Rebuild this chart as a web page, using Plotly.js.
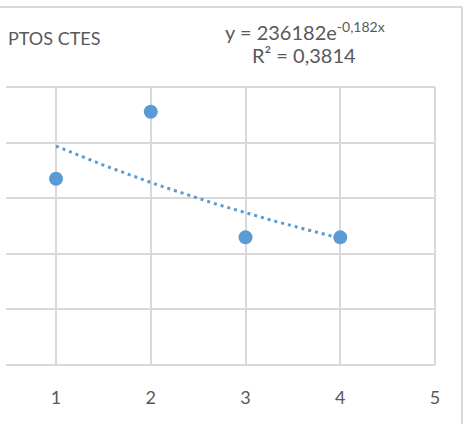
<!DOCTYPE html>
<html>
<head>
<meta charset="utf-8">
<script src="https://cdn.plot.ly/plotly-3.0.1.min.js"></script>
<style>
html,body{margin:0;padding:0;background:#fff;}
#chart{width:471px;height:424px;}
</style>
</head>
<body>
<div id="chart"></div>
<script>
// Data
const xValues = [1, 2, 3, 4];
const yValues = [167500, 227700, 114800, 114800];
const xTicks = [1, 2, 3, 4, 5];
const xTickLabels = ['1', '2', '3', '4', '5'];
// Displayed trendline coefficients
const trendA = 236182;
const trendB = -0.182;
const trendLabelA = '236182';
const trendLabelB = '-0,182';
const trendR2 = '0,3814';
const seriesTitle = 'PTOS CTES';

const trendX = [];
const trendY = [];
const x0 = Math.min(...xValues), x1 = Math.max(...xValues);
for (let i = 0; i <= 60; i++) {
  const x = x0 + (x1 - x0) * i / 60;
  trendX.push(x);
  trendY.push(trendA * Math.exp(trendB * x));
}

const blue = '#5B9BD5';
const grid = '#D9D9D9';
const txt = '#595959';
const font = 'Lato, "Open Sans", sans-serif';

const traces = [
  {x: trendX, y: trendY, type: 'scatter', mode: 'lines',
   line: {color: blue, width: 3, dash: '3px,4px'}, hoverinfo: 'skip', showlegend: false},
  {x: xValues, y: yValues, type: 'scatter', mode: 'markers',
   marker: {color: blue, size: 14}, showlegend: false}
];

const L = 6, R = 435, T = 87, B = 365;
const W = 471, H = 424;
const px = v => (v - L) / (R - L);
const py = v => (B - v) / (B - T);

const layout = {
  width: W, height: H,
  margin: {l: L, r: W - R, t: T, b: H - B, pad: 0},
  paper_bgcolor: '#fff', plot_bgcolor: '#fff',
  font: {family: font, color: txt},
  xaxis: {range: [0.472, 5], tickvals: xTicks, ticktext: xTickLabels,
          showgrid: true, gridcolor: grid, gridwidth: 2, zeroline: false,
          showline: false, ticks: '', ticklabelstandoff: 20,
          tickfont: {size: 18, color: txt, family: font}},
  yaxis: {range: [0, 250000], dtick: 50000, tick0: 0, showticklabels: false,
          showgrid: true, gridcolor: grid, gridwidth: 2, zeroline: false,
          showline: false, ticks: ''},
  shapes: [
    {type: 'line', xref: 'paper', yref: 'paper', x0: px(0), x1: px(462), y0: py(7), y1: py(7),
     line: {color: grid, width: 2}, layer: 'below'},
    {type: 'line', xref: 'paper', yref: 'paper', x0: px(462), x1: px(462), y0: py(7), y1: py(430),
     line: {color: grid, width: 2}, layer: 'below'},
    {type: 'line', xref: 'paper', yref: 'paper', x0: 0, x1: 1, y0: 0, y1: 0,
     line: {color: grid, width: 2}, layer: 'below'},
    {type: 'line', xref: 'paper', yref: 'paper', x0: 0, x1: 1, y0: 1, y1: 1,
     line: {color: grid, width: 2}, layer: 'below'},
    {type: 'line', xref: 'paper', yref: 'paper', x0: 1, x1: 1, y0: 0, y1: 1,
     line: {color: grid, width: 2}, layer: 'below'}
  ],
  annotations: [
    {text: seriesTitle, xref: 'paper', yref: 'paper', x: px(6), y: py(38),
     xanchor: 'left', yanchor: 'middle', showarrow: false,
     font: {size: 18, color: txt, family: font}},
    {text: 'y = ' + trendLabelA + 'e<sup>' + trendLabelB + 'x</sup>', xref: 'paper', yref: 'paper',
     x: px(305), y: py(31), xanchor: 'center', yanchor: 'middle', showarrow: false,
     font: {size: 20, color: txt, family: font}},
    {text: 'R² = ' + trendR2, xref: 'paper', yref: 'paper',
     x: px(304), y: py(55), xanchor: 'center', yanchor: 'middle', showarrow: false,
     font: {size: 20, color: txt, family: font}}
  ]
};

Plotly.newPlot('chart', traces, layout, {displayModeBar: false, staticPlot: true});
</script>
</body>
</html>
